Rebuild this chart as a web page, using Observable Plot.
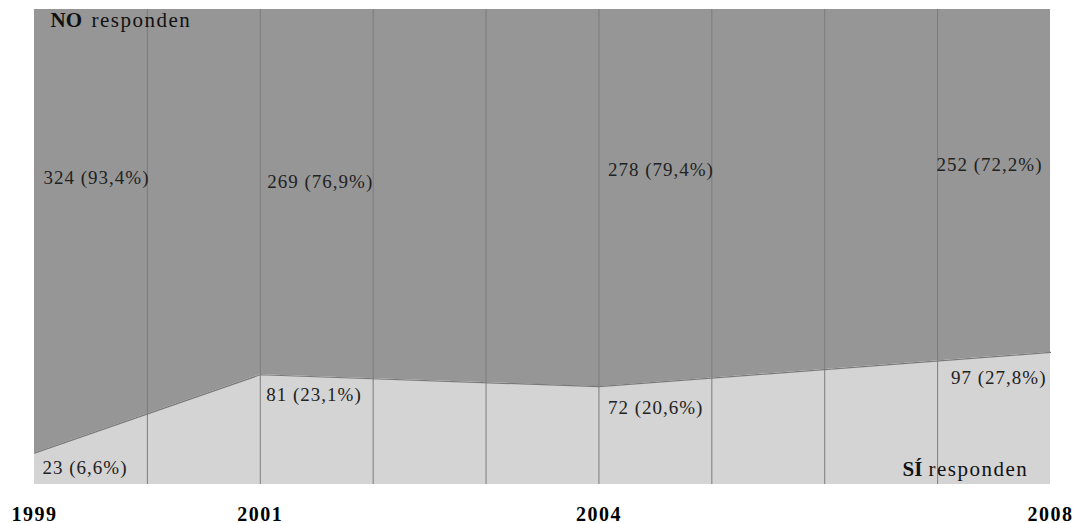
<!DOCTYPE html>
<html>
<head>
<meta charset="utf-8">
<script src="https://cdn.jsdelivr.net/npm/d3@7"></script>
<script src="https://cdn.jsdelivr.net/npm/@observablehq/plot@0.6"></script>
<style>
  html, body { margin: 0; padding: 0; background: #fff; }
  #chart svg { display: block; }
</style>
</head>
<body>
<div id="chart"></div>
<script>
// ---- data ----
const years = [1999, 2001, 2004, 2008];
const siCount = [23, 81, 72, 97];
const siPct = [6.6, 23.1, 20.6, 27.8];
const noCount = [324, 269, 278, 252];
const noPct = [93.4, 76.9, 79.4, 72.2];
const tickYears = [1999, 2001, 2004, 2008];
const gridYears = [2000, 2001, 2002, 2003, 2004, 2005, 2006, 2007];
const seriesNames = { no: "NO", si: "SÍ", rest: "responden" };

// ---- build table ----
const rows = years.map((y, i) => ({
  year: y, si: siPct[i], no: noPct[i],
  siLabel: `${siCount[i]} (${String(siPct[i]).replace(".", ",")}%)`,
  noLabel: `${noCount[i]} (${String(noPct[i]).replace(".", ",")}%)`
}));

// label layout (offsets in pixels, separate from data)
const noLayout = [
  {dx: 9, dy: 0, anchor: "start"},
  {dx: 7, dy: 4, anchor: "start"},
  {dx: 9, dy: -8, anchor: "start"},
  {dx: -8, dy: -13, anchor: "end"}
];
const siLayout = [
  {dx: 8, dy: 15, anchor: "start"},
  {dx: 6, dy: 20, anchor: "start"},
  {dx: 9, dy: 21, anchor: "start"},
  {dx: -4, dy: 25, anchor: "end"}
];
const noLabelLevel = 64.5;

const serif = "'Liberation Serif', 'Times New Roman', serif";
const labelStyle = {fontFamily: serif, fontSize: 19, fill: "#222", lineAnchor: "middle"};

const labelMarks = [];
rows.forEach((r, i) => {
  labelMarks.push(Plot.text([r], {
    x: "year", y: () => noLabelLevel, text: "noLabel",
    dx: noLayout[i].dx, dy: noLayout[i].dy, textAnchor: noLayout[i].anchor,
    ...labelStyle
  }));
  labelMarks.push(Plot.text([r], {
    x: "year", y: "si", text: "siLabel",
    dx: siLayout[i].dx, dy: siLayout[i].dy, textAnchor: siLayout[i].anchor,
    ...labelStyle
  }));
});

const chart = Plot.plot({
  width: 1077,
  height: 523,
  marginLeft: 34,
  marginRight: 27,
  marginTop: 9,
  marginBottom: 39,
  style: {background: "#fff", overflow: "visible"},
  x: {domain: [1999, 2008], axis: null},
  y: {domain: [0, 100], axis: null},
  marks: [
    Plot.areaY(rows, {x: "year", y1: "si", y2: () => 100, fill: "#969696"}),
    Plot.areaY(rows, {x: "year", y1: () => 0, y2: "si", fill: "#d4d4d4"}),
    Plot.ruleX(gridYears, {x: d => d, y1: 0, y2: 100, stroke: "#7c7c7c", strokeWidth: 1}),
    Plot.line(rows, {x: "year", y: "si", stroke: "#7a7a7a", strokeWidth: 1.2}),
    ...labelMarks,
    Plot.text([seriesNames.no], {frameAnchor: "top-left", dx: 16, dy: 11, lineAnchor: "middle", fontFamily: serif, fontSize: 21, fontWeight: "bold", fill: "#111", textAnchor: "start"}),
    Plot.text([seriesNames.rest], {frameAnchor: "top-left", dx: 57, dy: 11, lineAnchor: "middle", fontFamily: serif, fontSize: 21, fill: "#111", textAnchor: "start"}),
    Plot.text([seriesNames.si], {frameAnchor: "bottom-right", dx: -148, dy: -15, lineAnchor: "middle", fontFamily: serif, fontSize: 21, fontWeight: "bold", fill: "#111", textAnchor: "start"}),
    Plot.text([seriesNames.rest], {frameAnchor: "bottom-right", dx: -122, dy: -15, lineAnchor: "middle", fontFamily: serif, fontSize: 21, fill: "#111", textAnchor: "start"}),
    Plot.text(tickYears, {x: d => d, frameAnchor: "bottom", dy: 30, lineAnchor: "middle", text: d => String(d), fontFamily: serif, fontSize: 20, fontWeight: "bold", fill: "#000", textAnchor: "middle"})
  ]
});

// slight letter spacing to mimic the original's wide text rendering
d3.select(chart).selectAll("text")
  .filter(function () { return /%/.test(this.textContent); })
  .style("letter-spacing", "1px");
d3.select(chart).selectAll("text")
  .filter(function () { return this.textContent === "responden"; })
  .style("letter-spacing", "1.5px");
d3.select(chart).selectAll("text")
  .filter(function () { return /^\d{4}$/.test(this.textContent); })
  .style("letter-spacing", "1.5px");

document.getElementById("chart").appendChild(chart);
</script>
</body>
</html>
